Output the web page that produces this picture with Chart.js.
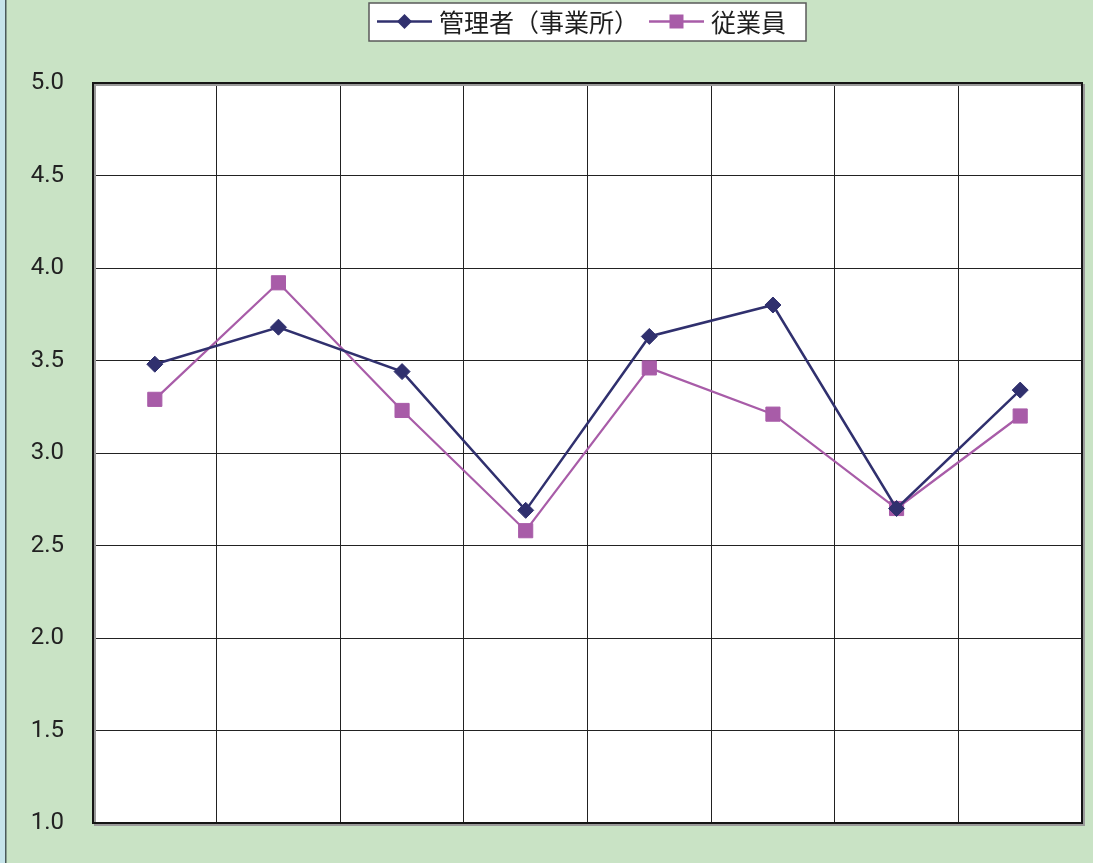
<!DOCTYPE html>
<html>
<head>
<meta charset="utf-8">
<script src="https://cdn.jsdelivr.net/npm/chart.js@4/dist/chart.umd.min.js"></script>
<style>
  html, body { margin: 0; padding: 0; background: #c9e3c5; }
  canvas { display: block; }
</style>
</head>
<body>
<canvas id="chart" width="1093" height="863"></canvas>
<script>
// eight survey items, no axis captions drawn
const categories = ["1", "2", "3", "4", "5", "6", "7", "8"];
const managerScores = [3.48, 3.68, 3.44, 2.69, 3.63, 3.80, 2.70, 3.34];
const employeeScores = [3.29, 3.92, 3.23, 2.58, 3.46, 3.21, 2.70, 3.20];
const seriesLabels = ["管理者（事業所）", "従業員"];
const yTicks = [1.0, 1.5, 2.0, 2.5, 3.0, 3.5, 4.0, 4.5, 5.0];

const NAVY = "#30306e";
const PINK = "#a85ca8";

// background, plot frame and the boxed legend
const decorations = {
  id: "decorations",
  beforeDraw(chart) {
    const { ctx, chartArea: a, width, height } = chart;
    ctx.save();
    ctx.fillStyle = "#c9e3c5";
    ctx.fillRect(0, 0, width, height);
    ctx.fillStyle = "#c6e4ea";
    ctx.fillRect(0, 0, 5, height);
    ctx.fillStyle = "#4a5a5a";
    ctx.fillRect(5, 0, 1.5, height);
    ctx.fillStyle = "#ffffff";
    ctx.fillRect(a.left, a.top, a.right - a.left, a.bottom - a.top);
    ctx.restore();
  },
  beforeDatasetsDraw(chart) {
    const { ctx, chartArea: a } = chart;
    ctx.save();
    ctx.strokeStyle = "#9a9a9a";
    ctx.lineWidth = 2;
    ctx.strokeRect(a.left + 2, a.top + 2, a.right - a.left, a.bottom - a.top);
    ctx.strokeStyle = "#151515";
    ctx.strokeRect(a.left, a.top, a.right - a.left, a.bottom - a.top);
    ctx.restore();
  },
  afterDraw(chart) {
    const { ctx } = chart;
    ctx.save();
    ctx.fillStyle = "#ffffff";
    ctx.fillRect(369, 3, 437, 38);
    ctx.strokeStyle = "#5a5a5a";
    ctx.lineWidth = 1.5;
    ctx.strokeRect(369, 3, 437, 38);

    ctx.font = "25px 'Noto Sans CJK JP'";
    ctx.textBaseline = "middle";
    const items = [
      { x: 377, color: NAVY, shape: "diamond", label: seriesLabels[0] },
      { x: 649, color: PINK, shape: "square", label: seriesLabels[1] }
    ];
    const y = 21.5;
    items.forEach(it => {
      ctx.strokeStyle = it.color;
      ctx.lineWidth = 2.5;
      ctx.beginPath();
      ctx.moveTo(it.x, y);
      ctx.lineTo(it.x + 55, y);
      ctx.stroke();
      const cx = it.x + 27.5;
      ctx.fillStyle = it.color;
      ctx.beginPath();
      if (it.shape === "diamond") {
        ctx.moveTo(cx, y - 7.5);
        ctx.lineTo(cx + 7.5, y);
        ctx.lineTo(cx, y + 7.5);
        ctx.lineTo(cx - 7.5, y);
      } else {
        ctx.rect(cx - 7, y - 7, 14, 14);
      }
      ctx.closePath();
      ctx.fill();
      ctx.fillStyle = "#1e1e1e";
      ctx.fillText(it.label, it.x + 62, y + 1);
    });
    ctx.restore();
  }
};

new Chart(document.getElementById("chart"), {
  type: "line",
  data: {
    labels: categories,
    datasets: [
      {
        label: seriesLabels[0],
        data: managerScores,
        borderColor: NAVY,
        backgroundColor: NAVY,
        borderWidth: 2.5,
        pointStyle: "rectRot",
        pointRadius: 8,
        pointBorderWidth: 1,
        tension: 0
      },
      {
        label: seriesLabels[1],
        data: employeeScores,
        borderColor: PINK,
        backgroundColor: PINK,
        borderWidth: 2.2,
        pointStyle: "rect",
        pointRadius: 10,
        pointBorderWidth: 1,
        tension: 0
      }
    ]
  },
  options: {
    responsive: false,
    animation: false,
    devicePixelRatio: 1,
    layout: { padding: { top: 83, bottom: 40, right: 11, left: 0 } },
    scales: {
      x: {
        type: "category",
        offset: true,
        grid: { offset: true, color: "#222", lineWidth: 1, drawTicks: false },
        border: { display: false },
        ticks: { display: false },
        afterFit(scale) { scale.height = 0; }
      },
      y: {
        min: 1,
        max: 5,
        afterBuildTicks(scale) { scale.ticks = yTicks.map(v => ({ value: v })); },
        grid: { color: "#222", lineWidth: 1, drawTicks: false },
        border: { display: false },
        ticks: {
          padding: 29,
          color: "#222",
          font: { family: "Roboto", size: 24 },
          callback: v => Number(v).toFixed(1)
        },
        afterFit(scale) {
          scale.width = 93;
          scale.paddingTop = 0;
          scale.paddingBottom = 0;
        }
      }
    },
    plugins: {
      legend: { display: false },
      tooltip: { enabled: false }
    }
  },
  plugins: [decorations]
});
</script>
</body>
</html>
